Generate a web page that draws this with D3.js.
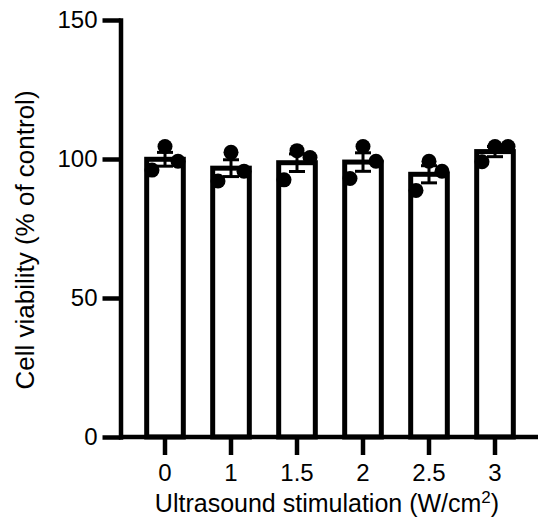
<!DOCTYPE html>
<html>
<head>
<meta charset="utf-8">
<script src="https://cdn.jsdelivr.net/npm/d3@7"></script>
<style>
	body { margin: 0; background: #fff; }
	svg { display: block; font-family: "Liberation Sans", Arial, Helvetica, sans-serif; }
	.axis text { font-size: 24px; fill: #000; }
	.axis line, .axis path { stroke: #000; stroke-width: 4.5; }
	.axis-title { fill: #000; }
</style>
</head>
<body>
<div id="chart"></div>
<script>
// groepen (ultrasound intensiteit, W/cm2)
const categories = ["0", "1", "1.5", "2", "2.5", "3"];
// drie replicaten per groep (links, midden, rechts)
const replicateLeft = [96, 92.1, 92.5, 93, 88.7, 99];
const replicateMid = [104.5, 102.4, 103, 104.5, 99.2, 104.5];
const replicateRight = [99.2, 95.6, 100.5, 99.2, 95.6, 104.5];
const yTicks = [0, 50, 100, 150];

const width = 541, height = 518;
const axisX = 120.5;

const svg = d3.select("#chart")
	.append("svg")
	.attr("width", width)
	.attr("height", height);

const y = d3.scaleLinear().domain([0, 150]).range([437, 20]);
const x = d3.scaleBand()
	.domain(categories)
	.range([132, 528])
	.paddingInner(0.445)
	.paddingOuter(0.2225);

// per groep gemiddelde en SEM uit de replicaten
const groups = categories.map((c, i) => {
	const vals = [replicateLeft[i], replicateMid[i], replicateRight[i]];
	const mean = d3.mean(vals);
	const sem = d3.deviation(vals) / Math.sqrt(vals.length);
	return { cat: c, vals, mean, sem };
});

// staven
svg.selectAll(".bar")
	.data(groups)
	.enter()
	.append("rect")
	.attr("class", "bar")
	.attr("x", d => x(d.cat))
	.attr("y", d => y(d.mean))
	.attr("width", x.bandwidth())
	.attr("height", d => y(0) - y(d.mean))
	.attr("fill", "#fff")
	.attr("stroke", "#000")
	.attr("stroke-width", 5);

// foutbalken
const capW = 8;
const err = svg.selectAll(".err")
	.data(groups)
	.enter()
	.append("g")
	.attr("class", "err")
	.attr("stroke", "#000")
	.attr("stroke-width", 3);

err.append("line")
	.attr("x1", d => x(d.cat) + x.bandwidth() / 2)
	.attr("x2", d => x(d.cat) + x.bandwidth() / 2)
	.attr("y1", d => y(d.mean - d.sem))
	.attr("y2", d => y(d.mean + d.sem));

[1, -1].forEach(s => {
	err.append("line")
		.attr("x1", d => x(d.cat) + x.bandwidth() / 2 - capW)
		.attr("x2", d => x(d.cat) + x.bandwidth() / 2 + capW)
		.attr("y1", d => y(d.mean + s * d.sem))
		.attr("y2", d => y(d.mean + s * d.sem));
});

// punten
const jitter = [-13, 0, 13];
const points = [];
groups.forEach(g => g.vals.forEach((v, k) => points.push({ cat: g.cat, v, k })));

svg.selectAll(".dot")
	.data(points)
	.enter()
	.append("circle")
	.attr("class", "dot")
	.attr("cx", d => x(d.cat) + x.bandwidth() / 2 + jitter[d.k])
	.attr("cy", d => y(d.v))
	.attr("r", 7.5)
	.attr("fill", "#000");

// x-as
const xAxisG = svg.append("g")
	.attr("class", "axis x-axis")
	.attr("transform", `translate(0, ${y(0)})`)
	.call(d3.axisBottom(x).tickSize(18).tickPadding(9).tickSizeOuter(0));
xAxisG.select(".domain").remove();
xAxisG.selectAll(".tick line").attr("y1", 2);
svg.append("line")
	.attr("class", "x-domain")
	.attr("x1", axisX)
	.attr("x2", 538)
	.attr("y1", y(0))
	.attr("y2", y(0))
	.attr("stroke", "#000")
	.attr("stroke-width", 4.5);

// y-as
const yAxisG = svg.append("g")
	.attr("class", "axis y-axis")
	.attr("transform", `translate(${axisX}, 0)`)
	.call(d3.axisLeft(y).tickValues(yTicks).tickSize(18).tickPadding(5).tickSizeOuter(0));
yAxisG.select(".domain").attr("stroke-linecap", "square");

// astitels
const xt = svg.append("text")
	.attr("class", "axis-title")
	.attr("x", 327)
	.attr("y", 512)
	.attr("font-size", 25)
	.attr("text-anchor", "middle");
xt.append("tspan").text("Ultrasound stimulation (W/cm");
xt.append("tspan").attr("dy", -9).attr("font-size", 17).text("2");
xt.append("tspan").attr("dy", 9).text(")");

svg.append("text")
	.attr("class", "axis-title")
	.attr("transform", "translate(34, 240) rotate(-90)")
	.attr("font-size", 26)
	.attr("text-anchor", "middle")
	.text("Cell viability (% of control)");
</script>
</body>
</html>
